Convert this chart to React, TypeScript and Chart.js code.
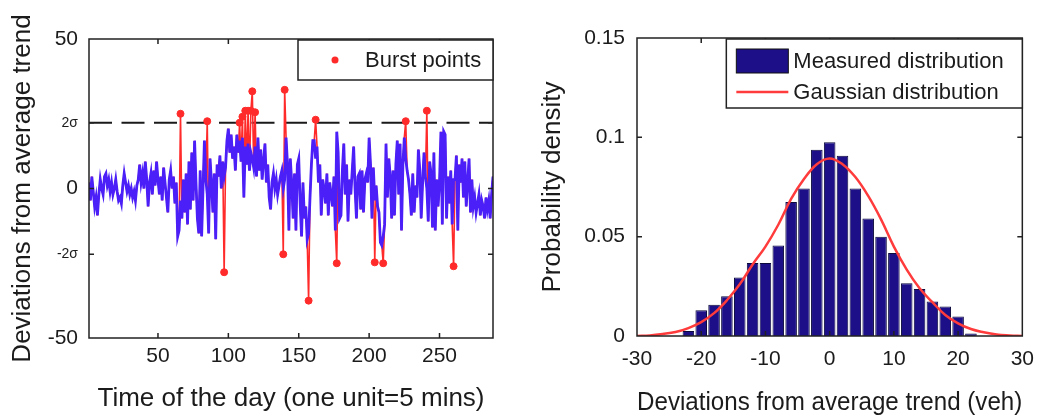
import React, { useEffect, useRef } from "react";
import { Chart, registerables } from "chart.js";
Chart.register(...registerables);

const FONT = '"Liberation Sans", Arial, Helvetica, sans-serif';
const TEXT = "#1b1b1b";
const BLUE = "#4a1ff8";
const RED = "#ff2b2b";
const NAVY = "#1c0f88";

// ---------- Left panel: deviations over the day ----------
const TIME_MIN = 1;
const TIME_MAX = 288;
const TIME_TICKS = [50, 100, 150, 200, 250];
const SIGMA2 = 22;
const DEV_TICKS = [-50, -SIGMA2, 0, SIGMA2, 50];
const DEV_TICK_LABELS = ["-50", "-2σ", "0", "2σ", "50"];

const DEVIATIONS = [
  2, -4, 4, -1, -6, -3, -9, -2, 3, 0,
  -2, 4, 5, 1, 3, -1, 2, -2, 0, 3,
  -1, -4, -3, -5, 1, 5, 2, -1, 1, -2,
  0, -3, -1, -4, 1, 3, 8, 2, 5, 0,
  9, 3, -6, 2, 5, -2, 6, 1, 9, 3,
  -2, 4, -4, 7, 2, -3, -8, 3, 6, 0,
  4, -5, 2, -16, -14, -4, -10, 3, -8, 5,
  -12, 9, -7, 12, -4, 16, 2, -10, -15, 6,
  -16, 0, 16, 3, -2, -15, 10, 2, -8, 5,
  -17, 8, 4, 11, 0, 9, 4, 7, 16, 20,
  12, 18, 10, 14, 6, 18, 12, 16, 9, 17,
  -3, 14, 8, 15, 6, 12, 10, 7, 14, 4,
  17, 6, 13, 3, 9, 15, 2, 8, -3, -7,
  2, 5, 0, 3, -2, 1, 4, 6, 0, 3,
  17, 8, -14, 10, 2, -10, 5, -14, 8, 10,
  -5, -16, 2, -10, -6, -17, -15, -3, 8, 16,
  16, 10, 14, 2, 8, -9, 3, 0, -5, 5,
  -9, 2, -2, -6, 4, -14, 19, 12, -10, -9,
  6, 15, -2, 8, -11, 3, -2, 6, 14, 0,
  -10, 4, 5, -7, 6, -8, 3, 5, 2, 17,
  8, -10, 7, -4, 1, -6, -8, -18, -19, -16,
  -12, 15, -3, 10, 4, -10, 6, -9, 8, 16,
  -2, 15, -14, 8, 17, 10, 6, 3, -2, -9,
  5, -8, 1, -3, 13, 6, -10, 2, 12, 4,
  0, -11, 9, 5, -13, 12, -14, 3, -6, 2,
  19, -12, 19, 18, -10, 4, -5, 6, -12, 3,
  3, 11, -14, 8, 2, 10, -3, 9, -6, 2,
  10, -8, 3, -6, -3, -8, -5, -2, -9, -4,
  -6, -10, -3, -7, -4, -10, -2, 4,
];

const BURST_TIMES = [66, 85, 97, 108, 110, 112, 114, 116, 117, 119, 139, 140, 157, 162, 177, 204, 210, 226, 241, 260];
const BURST_VALUES = [25, 22.5, -28, 22, 24, 26, 26, 26, 32.5, 25.5, -22, 33, -37.5, 23, -25, -24.7, -25, 22.5, 26, -26];

// ---------- Right panel: histogram ----------
const BIN_CENTERS = [-22, -20, -18, -16, -14, -12, -10, -8, -6, -4, -2, 0, 2, 4, 6, 8, 10, 12, 14, 16, 18, 20, 22];
const DENSITY = [0.0025, 0.013, 0.0157, 0.02, 0.0295, 0.0368, 0.0368, 0.0455, 0.0675, 0.0742, 0.0938, 0.0975, 0.0907, 0.0742, 0.0592, 0.05, 0.0418, 0.0266, 0.0236, 0.0174, 0.0148, 0.0098, 0.0013];
const GAUSS_X = [-30, -28, -26, -24, -22, -20, -18, -16, -14, -12, -10, -8, -6, -4, -2, 0, 2, 4, 6, 8, 10, 12, 14, 16, 18, 20, 22, 24, 26, 28, 30];
const GAUSS_Y = [0, 0.0003, 0.001, 0.002, 0.004, 0.007, 0.0115, 0.018, 0.026, 0.036, 0.045, 0.056, 0.069, 0.079, 0.0865, 0.0894, 0.0865, 0.08, 0.0705, 0.0587, 0.045, 0.0334, 0.024, 0.017, 0.0106, 0.0064, 0.0035, 0.0019, 0.0008, 0.0003, 0];
const HIST_X_TICKS = [-30, -20, -10, 0, 10, 20, 30];
const HIST_Y_TICKS = [0, 0.05, 0.1, 0.15];
const HIST_Y_LABELS = ["0", "0.05", "0.1", "0.15"];

// ---------- Plugin: MATLAB-like box, inward ticks and framed legend ----------
const framePlugin = {
  id: "matlabFrame",
  afterDatasetsDraw(chart: any, _args: any, opts: any) {
    const { ctx, chartArea: a, scales } = chart;
    ctx.save();
    ctx.strokeStyle = "#222";
    ctx.lineWidth = 1.5;
    const tl = 5;
    ctx.beginPath();
    for (const t of scales.x.ticks) {
      const px = scales.x.getPixelForValue(t.value);
      if (px <= a.left + 1 || px >= a.right - 1) continue;
      ctx.moveTo(px, a.bottom); ctx.lineTo(px, a.bottom - tl);
      ctx.moveTo(px, a.top); ctx.lineTo(px, a.top + tl);
    }
    for (const t of scales.y.ticks) {
      const py = scales.y.getPixelForValue(t.value);
      if (py <= a.top + 1 || py >= a.bottom - 1) continue;
      ctx.moveTo(a.left, py); ctx.lineTo(a.left + tl, py);
      ctx.moveTo(a.right, py); ctx.lineTo(a.right - tl, py);
    }
    ctx.stroke();
    ctx.strokeRect(a.left, a.top, a.right - a.left, a.bottom - a.top);

    const lg = opts && opts.legend;
    if (lg) {
      const bx = a.right - lg.width;
      const by = a.top + 1;
      ctx.fillStyle = "#fff";
      ctx.fillRect(bx, by, lg.width, lg.height);
      ctx.strokeRect(bx, by, lg.width, lg.height);
      ctx.font = `${lg.fontSize}px ${FONT}`;
      ctx.textBaseline = "middle";
      ctx.textAlign = "left";
      lg.items.forEach((it: any, i: number) => {
        const cy = by + lg.rows[i];
        if (it.kind === "point") {
          ctx.fillStyle = it.color;
          ctx.beginPath();
          ctx.arc(bx + lg.markerX + lg.markerW / 2, cy, 3.5, 0, Math.PI * 2);
          ctx.fill();
        } else if (it.kind === "box") {
          ctx.fillStyle = it.color;
          ctx.fillRect(bx + lg.markerX, cy - 12, lg.markerW, 24);
          ctx.lineWidth = 1;
          ctx.strokeStyle = "#111";
          ctx.strokeRect(bx + lg.markerX, cy - 12, lg.markerW, 24);
        } else {
          ctx.strokeStyle = it.color;
          ctx.lineWidth = 2.5;
          ctx.beginPath();
          ctx.moveTo(bx + lg.markerX, cy);
          ctx.lineTo(bx + lg.markerX + lg.markerW, cy);
          ctx.stroke();
        }
        ctx.fillStyle = TEXT;
        ctx.fillText(it.text, bx + lg.textX, cy + 1);
      });
    }
    ctx.restore();
  },
};

const tickFont = { family: FONT, size: 21, lineHeight: 1.2 };
const titleFont = { family: FONT, size: 26, lineHeight: 1 };

function leftConfig(): any {
  const base = DEVIATIONS.map((v, i) => ({ x: i + 1, y: v }));
  const withBursts = base.map((p) => {
    const k = BURST_TIMES.indexOf(p.x);
    return k >= 0 ? { x: p.x, y: BURST_VALUES[k] } : p;
  });
  const bursts = BURST_TIMES.map((t, i) => ({ x: t, y: BURST_VALUES[i] }));
  return {
    type: "line",
    data: {
      datasets: [
        { label: "Burst points", type: "scatter", data: bursts, showLine: false, pointRadius: 3.5, pointBackgroundColor: RED, pointBorderColor: RED, order: -1 },
        { label: "series", data: base, borderColor: BLUE, borderWidth: 2.8, pointRadius: 0, order: 0 },
        { label: "raw", data: withBursts, borderColor: RED, borderWidth: 1.6, pointRadius: 0, order: 1 },
        { label: "2sigma", data: [{ x: TIME_MIN, y: SIGMA2 }, { x: TIME_MAX, y: SIGMA2 }], borderColor: "#1a1a1a", borderWidth: 2, borderDash: [23, 9.5], pointRadius: 0, order: 2 },
      ],
    },
    options: {
      responsive: false,
      animation: false,
      layout: { padding: { top: 39, right: 27, left: 0, bottom: 0 } },
      plugins: {
        legend: { display: false },
        tooltip: { enabled: false },
        matlabFrame: {
          legend: { width: 195, height: 40, fontSize: 22, markerX: 27, markerW: 20, textX: 67, rows: [20], items: [{ kind: "point", color: RED, text: "Burst points" }] },
        },
      },
      scales: {
        x: {
          type: "linear", min: TIME_MIN, max: TIME_MAX,
          grid: { display: false, drawTicks: false }, border: { display: false },
          ticks: { font: tickFont, color: TEXT, padding: 6, maxRotation: 0, autoSkip: false },
          afterBuildTicks: (s: any) => { s.ticks = TIME_TICKS.map((v) => ({ value: v })); },
          afterFit: (s: any) => { s.height = 79; },
          title: { display: true, text: "Time of the day (one unit=5 mins)", font: titleFont, color: TEXT, padding: { top: 0, bottom: 5 } },
        },
        y: {
          type: "linear", min: -50, max: 50,
          grid: { display: false, drawTicks: false }, border: { display: false },
          ticks: {
            color: TEXT, padding: 11, autoSkip: false,
            font: (c: any) => ({ family: FONT, size: c.tick && Math.abs(c.tick.value) === SIGMA2 ? 14 : 21, lineHeight: 1.2 }),
            callback: (v: number) => DEV_TICK_LABELS[DEV_TICKS.indexOf(v)],
          },
          afterBuildTicks: (s: any) => { s.ticks = DEV_TICKS.map((v) => ({ value: v })); },
          afterFit: (s: any) => { s.width = 89; },
          title: { display: true, text: "Deviations from average trend", font: titleFont, color: TEXT, padding: { top: 10, bottom: 0 } },
        },
      },
    },
    plugins: [framePlugin],
  };
}

function rightConfig(): any {
  return {
    type: "bar",
    data: {
      datasets: [
        { type: "line", label: "Gaussian distribution", data: GAUSS_X.map((x, i) => ({ x, y: GAUSS_Y[i] })), borderColor: "#ff3b3b", borderWidth: 2.5, pointRadius: 0, tension: 0.4, order: 0 },
        { type: "bar", label: "Measured distribution", data: BIN_CENTERS.map((x, i) => ({ x, y: DENSITY[i] })), backgroundColor: NAVY, borderColor: "#0c0a3c", borderWidth: 1, barPercentage: 0.9, categoryPercentage: 1, order: 1 },
      ],
    },
    options: {
      responsive: false,
      animation: false,
      layout: { padding: { top: 38, right: 15, left: 0, bottom: 0 } },
      plugins: {
        legend: { display: false },
        tooltip: { enabled: false },
        matlabFrame: {
          legend: {
            width: 296, height: 69, fontSize: 22, markerX: 10, markerW: 52, textX: 67, rows: [22, 53],
            items: [
              { kind: "box", color: NAVY, text: "Measured distribution" },
              { kind: "line", color: "#ff3b3b", text: "Gaussian distribution" },
            ],
          },
        },
      },
      scales: {
        x: {
          type: "linear", min: -30, max: 30, offset: false,
          grid: { display: false, drawTicks: false }, border: { display: false },
          ticks: { font: tickFont, color: TEXT, padding: 11, maxRotation: 0, autoSkip: false },
          afterBuildTicks: (s: any) => { s.ticks = HIST_X_TICKS.map((v) => ({ value: v })); },
          afterFit: (s: any) => { s.height = 81; },
          title: { display: true, text: "Deviations from average trend (veh)", font: titleFont, color: TEXT, padding: { top: 0, bottom: 1 } },
        },
        y: {
          type: "linear", min: 0, max: 0.15,
          grid: { display: false, drawTicks: false }, border: { display: false },
          ticks: { font: tickFont, color: TEXT, padding: 12, autoSkip: false, callback: (v: number) => HIST_Y_LABELS[HIST_Y_TICKS.indexOf(v)] },
          afterBuildTicks: (s: any) => { s.ticks = HIST_Y_TICKS.map((v) => ({ value: v })); },
          afterFit: (s: any) => { s.width = 117; },
          title: { display: true, text: "Probability density", font: titleFont, color: TEXT, padding: { top: 20, bottom: 0 } },
        },
      },
    },
    plugins: [framePlugin],
  };
}

function Panel({ left, width, make }: { left: number; width: number; make: () => any }) {
  const ref = useRef<HTMLCanvasElement>(null);
  useEffect(() => {
    const chart = new Chart(ref.current as HTMLCanvasElement, make());
    return () => chart.destroy();
  }, []);
  return (
    <div style={{ position: "absolute", left, top: 0, width, height: 417 }}>
      <canvas ref={ref} width={width} height={417} style={{ display: "block", width, height: 417 }} />
    </div>
  );
}

export default function App() {
  return (
    <div>
      <Panel left={0} width={520} make={leftConfig} />
      <Panel left={520} width={525} make={rightConfig} />
    </div>
  );
}
